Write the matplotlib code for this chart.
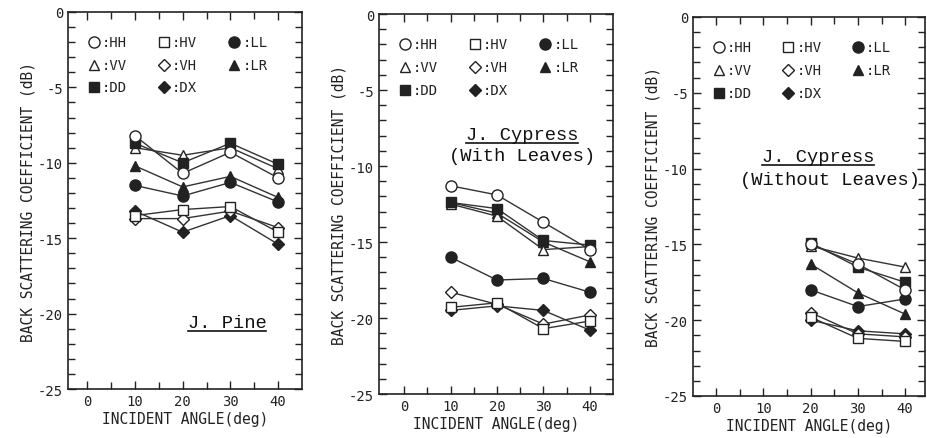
import matplotlib.pyplot as plt

# Incident angles (deg)
angles_pine = [10, 20, 30, 40]
angles_cyp_leaves = [10, 20, 30, 40]
angles_cyp_bare = [20, 30, 40]

# Back scattering coefficient (dB)
pine = {
    'HH': [-8.2, -10.7, -9.3, -11.0],
    'VV': [-9.0, -9.5, -9.0, -10.4],
    'DD': [-8.7, -10.0, -8.7, -10.1],
    'LR': [-10.2, -11.6, -10.9, -12.3],
    'LL': [-11.5, -12.2, -11.3, -12.6],
    'HV': [-13.5, -13.1, -12.9, -14.6],
    'VH': [-13.7, -13.7, -13.2, -14.3],
    'DX': [-13.2, -14.6, -13.5, -15.4],
}
cyp_leaves = {
    'HH': [-11.3, -11.9, -13.7, -15.5],
    'VV': [-12.5, -13.3, -15.5, -15.3],
    'DD': [-12.4, -12.8, -14.9, -15.2],
    'LR': [-12.4, -13.1, -15.0, -16.3],
    'LL': [-16.0, -17.5, -17.4, -18.3],
    'HV': [-19.3, -19.0, -20.7, -20.2],
    'VH': [-18.3, -19.1, -20.4, -19.8],
    'DX': [-19.5, -19.2, -19.5, -20.8],
}
cyp_bare = {
    'HH': [-15.0, -16.3, -18.0],
    'VV': [-15.1, -15.9, -16.5],
    'DD': [-14.9, -16.5, -17.5],
    'LR': [-16.3, -18.2, -19.6],
    'LL': [-18.0, -19.1, -18.6],
    'HV': [-19.8, -21.2, -21.4],
    'VH': [-19.5, -20.9, -21.1],
    'DX': [-20.0, -20.7, -20.9],
}

styles = {
    'HH': dict(marker='o', mfc='white'),
    'HV': dict(marker='s', mfc='white'),
    'LL': dict(marker='o', mfc='#222222'),
    'VV': dict(marker='^', mfc='white'),
    'VH': dict(marker='D', mfc='white'),
    'LR': dict(marker='^', mfc='#222222'),
    'DD': dict(marker='s', mfc='#222222'),
    'DX': dict(marker='D', mfc='#222222'),
}
legend_grid = [['HH', 'HV', 'LL'], ['VV', 'VH', 'LR'], ['DD', 'DX', None]]

mono = 'DejaVu Sans Mono'
serif = 'Liberation Mono'


def msize(m):
    return {'o': 8, 's': 7, '^': 7.5, 'D': 6.5}[m]


fig = plt.figure(figsize=(9.28, 4.39), dpi=100)
rects = [
    [0.0733, 0.1116, 0.2522, 0.8588],
    [0.4084, 0.1002, 0.2522, 0.8656],
    [0.7468, 0.0957, 0.2500, 0.8633],
]
xlims = [(-4, 45), (-5.4, 45), (-4.9, 44.2)]
panels = [(angles_pine, pine), (angles_cyp_leaves, cyp_leaves), (angles_cyp_bare, cyp_bare)]
titles = [
    [('J. Pine', 29.3, -20.6, True)],
    [('J. Cypress', 25.4, -7.9, True), ('(With Leaves)', 25.4, -9.3, False)],
    [('J. Cypress', 21.6, -9.2, True), ('(Without Leaves)', 24.0, -10.7, False)],
]

for i, (rect, (xs, data)) in enumerate(zip(rects, panels)):
    ax = fig.add_axes(rect)
    for key in ['DX', 'VH', 'HV', 'LL', 'LR', 'VV', 'DD', 'HH']:
        st = styles[key]
        ax.plot(xs, data[key], color='#333333', lw=1.0, marker=st['marker'],
                mfc=st['mfc'], mec='#222222', ms=msize(st['marker']), mew=1.0)
    ax.set_xlim(*xlims[i])
    ax.set_ylim(-25, 0)
    ax.set_xticks([0, 10, 20, 30, 40])
    ax.set_xticks([5, 15, 25, 35], minor=True)
    ax.set_yticks([0, -5, -10, -15, -20, -25])
    ax.set_yticks([v for v in range(-24, 0) if v % 5 != 0], minor=True)
    ax.tick_params(which='both', direction='in', top=True, right=True,
                   width=1, colors='#222222')
    ax.tick_params(which='major', length=6)
    ax.tick_params(which='minor', length=5)
    ax.set_xticklabels(['0', '10', '20', '30', '40'], fontfamily=mono, fontsize=10)
    ax.set_yticklabels(['0', '-5', '-10', '-15', '-20', '-25'], fontfamily=mono, fontsize=10)
    for sp in ax.spines.values():
        sp.set_linewidth(1.2)
        sp.set_color('#222222')
    ax.set_xlabel('INCIDENT ANGLE(deg)', fontfamily=mono, fontsize=10.5,
                  color='#222222', labelpad=2)
    ax.set_ylabel('BACK SCATTERING COEFFICIENT (dB)', fontfamily=mono,
                  fontsize=10.5, color='#222222', labelpad=2)

    # legend drawn as a 3x3 grid of marker + label
    for r, row in enumerate(legend_grid):
        for c, key in enumerate(row):
            if key is None:
                continue
            st = styles[key]
            x0 = 0.11 + c * 0.30
            y0 = 0.92 - r * 0.06
            ax.plot([x0], [y0], transform=ax.transAxes, marker=st['marker'],
                    mfc=st['mfc'], mec='#222222', ms=msize(st['marker']),
                    ls='none', clip_on=False)
            ax.text(x0 + 0.035, y0, ':' + key, transform=ax.transAxes,
                    fontfamily=mono, fontsize=10, va='center', ha='left',
                    color='#222222')

    for text, tx, ty, under in titles[i]:
        t = ax.text(tx, ty, text, fontfamily=serif, fontsize=13.5, ha='center',
                    va='center', color='#111111')
        if under:
            fig.canvas.draw()
            bb = t.get_window_extent().transformed(ax.transData.inverted())
            ax.plot([bb.x0, bb.x1], [bb.y0, bb.y0], color='#111111', lw=1.2)

fig.savefig('out.png', dpi=100)
